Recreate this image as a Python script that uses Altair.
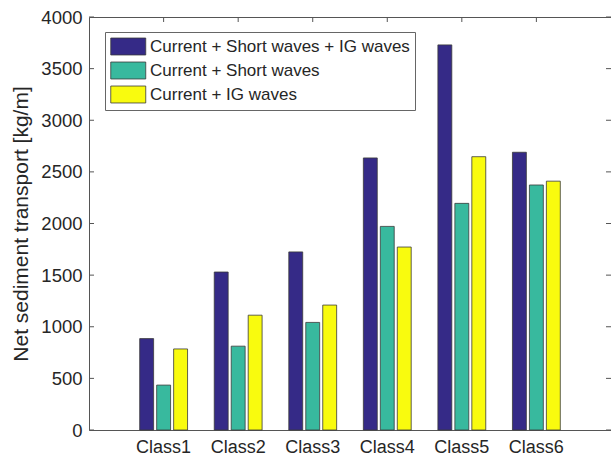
import altair as alt
import pandas as pd

# Net sediment transport per wave class, three forcing combinations
classes = ["Class1", "Class2", "Class3", "Class4", "Class5", "Class6"]
series = [
    "Current + Short waves + IG waves",
    "Current + Short waves",
    "Current + IG waves",
]
full = [885, 1530, 1725, 2635, 3730, 2690]
short_only = [435, 812, 1042, 1972, 2195, 2373]
ig_only = [785, 1112, 1210, 1772, 2647, 2410]
colors = ["#352a87", "#38b99e", "#f9fb0e"]
y_ticks = [0, 500, 1000, 1500, 2000, 2500, 3000, 3500, 4000]

rows = []
for name, vals in zip(series, [full, short_only, ig_only]):
    for c, v in zip(classes, vals):
        rows.append({"cls": c, "series": name, "value": v})
df = pd.DataFrame(rows)
ticks_df = pd.DataFrame({"v": y_ticks})
cls_df = pd.DataFrame({"cls": classes})

W, H = 522, 413
FONT = "Liberation Sans"
TXT = "#262626"
FRAME = "#555555"

x_enc = alt.X(
    "cls:N",
    sort=classes,
    title=None,
    scale=alt.Scale(paddingInner=0.358, paddingOuter=0.68),
    axis=alt.Axis(labelAngle=0, labelFontSize=18, labelFont=FONT, labelColor=TXT,
                  ticks=False, domain=False, labelPadding=8),
)
y_scale = alt.Scale(domain=[0, 4000], nice=False)

# wide rectangular legend swatch, anchored at the symbol's left edge
swatch = "M-1,-0.97L3,-0.97L3,0.97L-1,0.97Z"

bars = alt.Chart(df).mark_bar(stroke="#3a3a3a", strokeWidth=0.8).encode(
    x=x_enc,
    xOffset=alt.XOffset("series:N", sort=series,
                        scale=alt.Scale(paddingInner=0.18, paddingOuter=0)),
    y=alt.Y(
        "value:Q",
        scale=y_scale,
        title="Net sediment transport [kg/m]",
        axis=alt.Axis(values=y_ticks, format="d", labelFontSize=18.5, labelFont=FONT,
                      labelColor=TXT, ticks=False, domain=False, grid=False,
                      labelPadding=7, titleFontSize=21, titleFont=FONT,
                      titleFontWeight="normal", titleColor=TXT, titlePadding=9),
    ),
    color=alt.Color(
        "series:N",
        sort=series,
        scale=alt.Scale(domain=series, range=colors),
        legend=alt.Legend(
            title=None,
            orient="none",
            legendX=16,
            legendY=15,
            symbolType=swatch,
            symbolSize=306,
            symbolStrokeColor="#3a3a3a",
            symbolStrokeWidth=0.8,
            symbolOpacity=1,
            labelFontSize=17,
            labelFont=FONT,
            labelColor=TXT,
            labelOffset=21,
            labelLimit=400,
            rowPadding=3,
            padding=5,
            strokeColor="#666666",
            fillColor="white",
        ),
    ),
)

# inward tick marks on the left and right edges of the box
left_ticks = alt.Chart(ticks_df).mark_rule(color=FRAME, strokeWidth=1).encode(
    y=alt.Y("v:Q", scale=y_scale), x=alt.value(0), x2=alt.value(5)
)
right_ticks = alt.Chart(ticks_df).mark_rule(color=FRAME, strokeWidth=1).encode(
    y=alt.Y("v:Q", scale=y_scale), x=alt.value(W - 5), x2=alt.value(W)
)
# inward tick marks on the top edge at each class
top_ticks = alt.Chart(cls_df).mark_rule(color=FRAME, strokeWidth=1).encode(
    x=alt.X("cls:N", sort=classes), y=alt.value(0), y2=alt.value(5)
)

chart = (
    alt.layer(left_ticks, right_ticks, bars, top_ticks)
    .properties(
        width=W,
        height=H,
        autosize=alt.AutoSizeParams(type="none"),
        padding={"left": 89, "top": 17, "right": 0, "bottom": 27},
        background="white",
    )
    .configure_view(stroke=FRAME, strokeWidth=1)
)

chart.save("out.html", embed_options={"renderer": "svg", "actions": False})
